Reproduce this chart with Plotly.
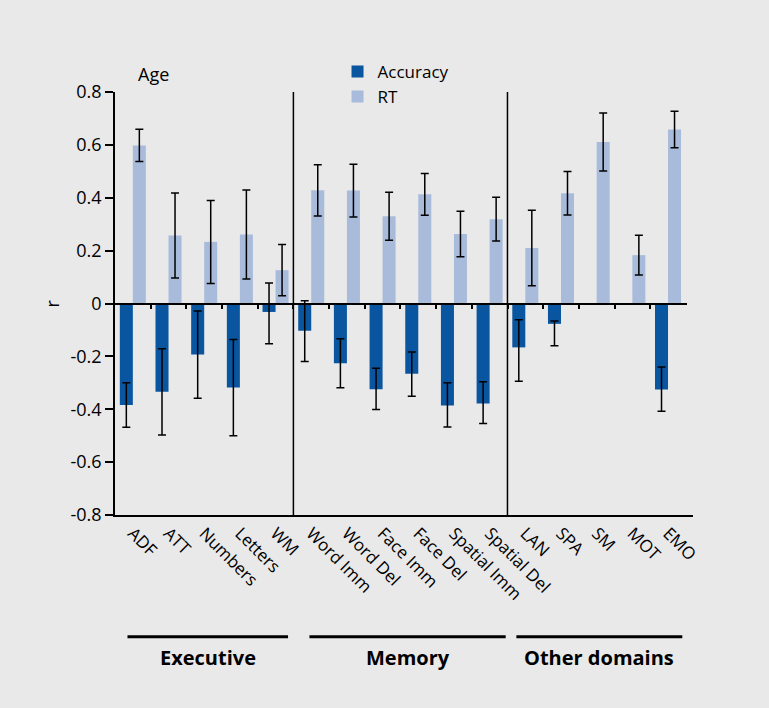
import plotly.graph_objects as go

categories = ["ADF", "ATT", "Numbers", "Letters", "WM",
              "Word Imm", "Word Del", "Face Imm", "Face Del", "Spatial Imm", "Spatial Del",
              "LAN", "SPA", "SM", "MOT", "EMO"]
acc = [-0.384, -0.334, -0.193, -0.318, -0.032,
       -0.103, -0.226, -0.324, -0.266, -0.386, -0.378,
       -0.166, -0.077, None, None, -0.325]
acc_err_plus = [0.084, 0.163, 0.165, 0.182, 0.11,
                0.113, 0.093, 0.079, 0.083, 0.086, 0.082,
                0.105, 0.011, None, None, 0.085]
acc_err_minus = [0.084, 0.163, 0.165, 0.182, 0.12,
                 0.116, 0.093, 0.077, 0.085, 0.081, 0.076,
                 0.128, 0.083, None, None, 0.083]
rt = [0.598, 0.257, 0.233, 0.261, 0.126,
      0.428, 0.427, 0.330, 0.413, 0.263, 0.319,
      0.210, 0.417, 0.611, 0.183, 0.658]
rt_err = [0.061, 0.161, 0.157, 0.168, 0.097,
          0.097, 0.100, 0.091, 0.079, 0.086, 0.083,
          0.143, 0.082, 0.110, 0.075, 0.069]
groups = ["Executive", "Memory", "Other domains"]
group_spans = [(-0.15, 4.35), (4.95, 10.45), (10.75, 15.4)]
separators = [4.5, 10.5]
yticks = [0.8, 0.6, 0.4, 0.2, 0, -0.2, -0.4, -0.6, -0.8]
ytick_labels = ["0.8", "0.6", "0.4", "0.2", "0", "-0.2", "-0.4", "-0.6", "-0.8"]

FONT = "Open Sans"
ACC_COLOR = "#0a559f"
RT_COLOR = "#a9bbdb"
BG = "#e9e9e9"

xs = list(range(len(categories)))

fig = go.Figure()
fig.add_trace(go.Bar(
    x=xs, y=acc, name="Accuracy", marker=dict(color=ACC_COLOR, line=dict(width=0)),
    error_y=dict(type="data", symmetric=False, array=acc_err_plus, arrayminus=acc_err_minus,
                 color="black", thickness=1.5, width=4),
))
fig.add_trace(go.Bar(
    x=xs, y=rt, name="RT", marker=dict(color=RT_COLOR, line=dict(width=0)),
    error_y=dict(type="data", array=rt_err, color="black", thickness=1.5, width=4),
))
# invisible trace to carry the zero-line axis
fig.add_trace(go.Scatter(x=[0], y=[0], xaxis="x2", yaxis="y", mode="markers",
                         marker=dict(opacity=0), showlegend=False, hoverinfo="skip"))

shapes = []
for s in separators:
    shapes.append(dict(type="line", xref="x", yref="y", x0=s, x1=s, y0=-0.8, y1=0.8,
                       line=dict(color="black", width=1.5)))
annotations = []
for g, (a, b) in zip(groups, group_spans):
    shapes.append(dict(type="line", xref="x", yref="paper", x0=a, x1=b, y0=-0.288, y1=-0.288,
                       line=dict(color="black", width=3)))
    annotations.append(dict(text="<b>%s</b>" % g, xref="x", yref="paper", x=(a + b) / 2, y=-0.338,
                            showarrow=False, font=dict(family=FONT, size=20, color="black"),
                            xanchor="center", yanchor="middle"))
annotations.append(dict(text="Age", xref="paper", yref="paper", x=0.036, y=1.043,
                        showarrow=False, xanchor="left", yanchor="middle",
                        font=dict(family=FONT, size=18, color="black")))
annotations.append(dict(text="r", xref="paper", yref="paper", x=-0.109, y=0.5, textangle=-90,
                        showarrow=False, xanchor="center", yanchor="middle",
                        font=dict(family=FONT, size=18, color="black")))

fig.update_layout(
    width=769, height=708,
    margin=dict(l=115, r=76, t=92, b=193),
    paper_bgcolor=BG, plot_bgcolor="rgba(0,0,0,0)",
    font=dict(family=FONT, size=18, color="black"),
    barmode="group", bargap=0.27, bargroupgap=0,
    showlegend=True,
    legend=dict(x=0.385, y=1.09, xanchor="left", yanchor="top", bgcolor="rgba(0,0,0,0)",
                font=dict(family=FONT, size=17), tracegroupgap=0, itemsizing="constant"),
    xaxis=dict(range=[-0.5, 15.7], tickmode="array", tickvals=xs, ticktext=categories,
               tickangle=45, showline=True, linecolor="black", linewidth=1.5,
               ticks="", showgrid=False, zeroline=False, fixedrange=True,
               tickfont=dict(family=FONT, size=17)),
    xaxis2=dict(anchor="free", position=0.5, domain=[0, 0.9896], range=[-0.5, 15.53],
                tickmode="array", tickvals=[i + 0.5 for i in range(len(categories) - 1)],
                ticks="outside", ticklen=5, tickwidth=1.5, tickcolor="black",
                showticklabels=False, showline=True, linecolor="black", linewidth=1.5,
                showgrid=False, zeroline=False),
    yaxis=dict(range=[-0.8, 0.8], tickmode="array", tickvals=yticks, ticktext=ytick_labels,
               ticks="outside", ticklen=8, tickwidth=1.5, tickcolor="black",
               showline=True, linecolor="black", linewidth=1.5,
               showgrid=False, zeroline=False, tickfont=dict(family=FONT, size=18)),
    shapes=shapes, annotations=annotations,
)

fig.write_html("out.html", config={"displayModeBar": False},
               post_script="document.body.style.margin='0';document.body.style.overflow='hidden';")
